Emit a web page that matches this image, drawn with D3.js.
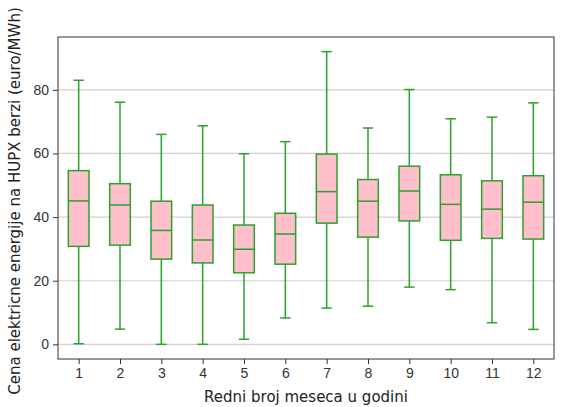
<!DOCTYPE html>
<html>
<head>
<meta charset="utf-8">
<script src="https://cdn.jsdelivr.net/npm/d3@7"></script>
<style>
  html, body { margin: 0; padding: 0; background: #fff; }
  svg { display: block; font-family: "DejaVu Sans", sans-serif; }
  .tick text { fill: #333; font-size: 14px; }
</style>
</head>
<body>
<svg id="chart" width="563" height="407"></svg>
<script>
// Monthly box stats
const months = [1, 2, 3, 4, 5, 6, 7, 8, 9, 10, 11, 12];
const whiskerLow  = [0.2, 4.8, 0.0, 0.0, 1.6, 8.3, 11.4, 12.0, 18.0, 17.2, 6.8, 4.7];
const q1          = [30.8, 31.2, 26.8, 25.6, 22.5, 25.2, 38.1, 33.7, 38.8, 32.7, 33.3, 33.1];
const median      = [45.1, 43.8, 35.8, 32.8, 29.9, 34.7, 48.0, 45.0, 48.2, 44.0, 42.5, 44.7];
const q3          = [54.6, 50.5, 45.0, 43.8, 37.5, 41.2, 59.8, 51.8, 56.0, 53.3, 51.4, 53.0];
const whiskerHigh = [83.0, 76.1, 66.0, 68.7, 59.9, 63.7, 92.0, 68.0, 80.1, 70.9, 71.4, 75.9];
const yTicks = [0, 20, 40, 60, 80];

const boxes = months.map((m, i) => ({
  m, lo: whiskerLow[i], q1: q1[i], med: median[i], q3: q3[i], hi: whiskerHigh[i]
}));

const margin = { top: 37, right: 9, bottom: 48, left: 58 };
const W = 563, H = 407;
const w = W - margin.left - margin.right;
const h = H - margin.top - margin.bottom;

const svg = d3.select("#chart");
const g = svg.append("g").attr("transform", `translate(${margin.left},${margin.top})`);

const x = d3.scaleLinear().domain([0.5, 12.5]).range([0, w]);
const y = d3.scaleLinear().domain([-4.6, 96.6]).range([h, 0]);

const green = "#2ca02c";
const boxW = x(1.25) - x(1);   // half of 0.5 width
const capW = x(1.125) - x(1);

// grid lines
g.append("g")
  .selectAll("line")
  .data(yTicks)
  .join("line")
  .attr("x1", 0).attr("x2", w)
  .attr("y1", d => y(d)).attr("y2", d => y(d))
  .attr("stroke", "#d0d0d0")
  .attr("stroke-width", 1.2);

// boxes
const bx = g.append("g").selectAll("g").data(boxes).join("g");

bx.append("line")
  .attr("x1", d => x(d.m)).attr("x2", d => x(d.m))
  .attr("y1", d => y(d.hi)).attr("y2", d => y(d.q3))
  .attr("stroke", green).attr("stroke-width", 1.5);
bx.append("line")
  .attr("x1", d => x(d.m)).attr("x2", d => x(d.m))
  .attr("y1", d => y(d.q1)).attr("y2", d => y(d.lo))
  .attr("stroke", green).attr("stroke-width", 1.5);

// caps
bx.append("line")
  .attr("x1", d => x(d.m) - capW).attr("x2", d => x(d.m) + capW)
  .attr("y1", d => y(d.hi)).attr("y2", d => y(d.hi))
  .attr("stroke", green).attr("stroke-width", 1.5);
bx.append("line")
  .attr("x1", d => x(d.m) - capW).attr("x2", d => x(d.m) + capW)
  .attr("y1", d => y(d.lo)).attr("y2", d => y(d.lo))
  .attr("stroke", green).attr("stroke-width", 1.5);

bx.append("rect")
  .attr("x", d => x(d.m) - boxW)
  .attr("width", boxW * 2)
  .attr("y", d => y(d.q3))
  .attr("height", d => y(d.q1) - y(d.q3))
  .attr("fill", "pink")
  .attr("stroke", green).attr("stroke-width", 1.5);

bx.append("line")
  .attr("x1", d => x(d.m) - boxW).attr("x2", d => x(d.m) + boxW)
  .attr("y1", d => y(d.med)).attr("y2", d => y(d.med))
  .attr("stroke", green).attr("stroke-width", 1.5);

// axes
const xAxis = g.append("g")
  .attr("transform", `translate(0,${h})`)
  .call(d3.axisBottom(x).tickValues(months).tickFormat(d3.format("d")).tickSizeOuter(0).tickSize(5).tickPadding(4));
const yAxis = g.append("g")
  .call(d3.axisLeft(y).tickValues(yTicks).tickSizeOuter(0).tickSize(5).tickPadding(4));

[xAxis, yAxis].forEach(a => {
  a.select(".domain").remove();
  a.selectAll(".tick line").attr("stroke", "#333");
});

// frame
g.append("rect")
  .attr("width", w).attr("height", h)
  .attr("fill", "none")
  .attr("stroke", "#333").attr("stroke-width", 1);

svg.append("text")
  .attr("x", margin.left + w / 2)
  .attr("y", 402)
  .attr("text-anchor", "middle")
  .attr("font-size", 15)
  .attr("fill", "#222")
  .text("Redni broj meseca u godini");

svg.append("text")
  .attr("transform", `translate(20,${margin.top + h / 2 + 3}) rotate(-90)`)
  .attr("text-anchor", "middle")
  .attr("font-size", 15)
  .attr("fill", "#222")
  .text("Cena elektricne energije na HUPX berzi (euro/MWh)");
</script>
</body>
</html>
